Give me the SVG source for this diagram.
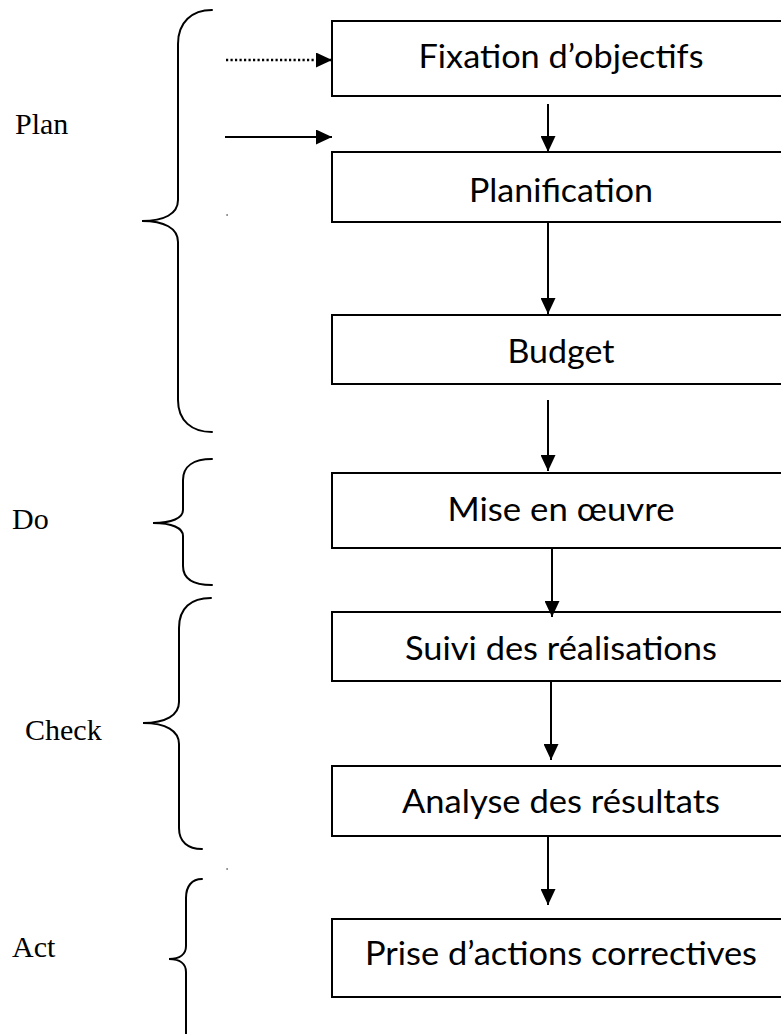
<svg xmlns="http://www.w3.org/2000/svg" width="781" height="1034" viewBox="0 0 781 1034">
  <style>
    .box rect { fill: #fff; stroke: #000; stroke-width: 2; }
    .box text { font-family: Lato, "Open Sans", sans-serif; font-size: 33px; fill: #000; text-anchor: middle; }
    .phase text { font-family: "Liberation Serif", "Times New Roman", serif; font-size: 30px; fill: #000; }
    .brace { fill: none; stroke: #000; stroke-width: 2; stroke-linecap: round; }
    .link { fill: none; stroke: #000; stroke-width: 2; marker-end: url(#head); }
    .dotted { stroke-width: 2.6; stroke-dasharray: 2.2 2.3; stroke-linecap: butt; }
  </style>
  <defs>
    <marker id="head" markerUnits="userSpaceOnUse" markerWidth="16" markerHeight="15" refX="16" refY="7.5" orient="auto">
      <path d="M0,0 L16,7.5 L0,15 Z" fill="#000"/>
    </marker>
  </defs>

  <rect width="781" height="1034" fill="#fff"/>

  <!-- phase labels with their braces -->
  <g id="phase-plan" class="phase">
    <text x="15" y="134">Plan</text>
    <path class="brace" d="M212,10 C192,10 178,22 178,44 L178,200 C178,214 164,221 142,221 C164,221 178,228 178,242 L178,400 C178,421 192,432 212,432"/>
  </g>
  <g id="phase-do" class="phase">
    <text x="12" y="529">Do</text>
    <path class="brace" d="M212,459 C194,459 183,466 183,480 L183,510 C183,518 172,523 153,523 C172,523 183,528 183,536 L183,566 C183,579 194,585 212,585"/>
  </g>
  <g id="phase-check" class="phase">
    <text x="25" y="740">Check</text>
    <path class="brace" d="M211,598 C191,598 179,608 179,628 L179,702 C179,715 166,723 143,723 C166,723 179,731 179,744 L179,828 C179,842 188,849 202,849"/>
  </g>
  <g id="phase-act" class="phase">
    <text x="12" y="957">Act</text>
    <path class="brace" d="M202,879 C192,879 186,886 186,898 L186,946 C186,954 180,959 169,959 C180,959 186,964 186,972 L186,1040"/>
  </g>

  <!-- process steps -->
  <g id="step-objectifs" class="box">
    <rect x="332" y="21" width="460" height="75"/>
    <text x="561" y="68" textLength="285" lengthAdjust="spacingAndGlyphs">Fixation d’objectifs</text>
  </g>
  <g id="step-planification" class="box">
    <rect x="332" y="152" width="460" height="70"/>
    <text x="561" y="202" textLength="184" lengthAdjust="spacingAndGlyphs">Planification</text>
  </g>
  <g id="step-budget" class="box">
    <rect x="332" y="315" width="460" height="69"/>
    <text x="561" y="363" textLength="107" lengthAdjust="spacingAndGlyphs">Budget</text>
  </g>
  <g id="step-mise-en-oeuvre" class="box">
    <rect x="332" y="473" width="460" height="75"/>
    <text x="561" y="521" textLength="227" lengthAdjust="spacingAndGlyphs">Mise en œuvre</text>
  </g>
  <g id="step-suivi" class="box">
    <rect x="332" y="612" width="460" height="69"/>
    <text x="561" y="660" textLength="312" lengthAdjust="spacingAndGlyphs">Suivi des réalisations</text>
  </g>
  <g id="step-analyse" class="box">
    <rect x="332" y="766" width="460" height="70"/>
    <text x="561" y="813" textLength="318" lengthAdjust="spacingAndGlyphs">Analyse des résultats</text>
  </g>
  <g id="step-actions" class="box">
    <rect x="332" y="919" width="460" height="78"/>
    <text x="561" y="965" textLength="392" lengthAdjust="spacingAndGlyphs">Prise d’actions correctives</text>
  </g>

  <!-- connectors -->
  <g id="connectors">
    <line class="link dotted" x1="226" y1="60" x2="332" y2="60"/>
    <line class="link" x1="225" y1="137" x2="332" y2="137"/>
    <line class="link" x1="548" y1="104" x2="548" y2="152"/>
    <line class="link" x1="548" y1="222" x2="548" y2="314"/>
    <line class="link" x1="548" y1="400" x2="548" y2="471"/>
    <line class="link" x1="552" y1="548" x2="552" y2="617"/>
    <line class="link" x1="551" y1="681" x2="551" y2="760"/>
    <line class="link" x1="548" y1="836" x2="548" y2="905"/>
  </g>

  <!-- stray specks -->
  <rect x="226.5" y="214" width="1.2" height="2" fill="#666"/>
  <rect x="226.5" y="868" width="1.2" height="2" fill="#666"/>
</svg>
